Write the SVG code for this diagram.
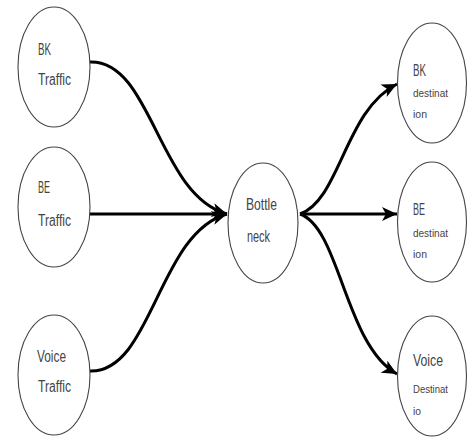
<svg xmlns="http://www.w3.org/2000/svg" width="468" height="441" viewBox="0 0 468 441">
<style>
.node ellipse{fill:#fff;stroke:#444;stroke-width:1.1}
.node text{font-family:"Liberation Sans",Arial,sans-serif;fill:#444}
.big{font-size:16px}
.small{font-size:11px}
.conn path{fill:none;stroke:#000;stroke-width:3}
</style>
<defs>
<marker id="ah" markerUnits="userSpaceOnUse" markerWidth="16" markerHeight="14" refX="15" refY="7" orient="auto">
<path d="M0,0 L15,7 L0,14 L4,7 z" fill="#000"/>
</marker>
</defs>
<rect width="468" height="441" fill="#fff"/>
<g class="conn">
<path d="M90,62 C152,60 158,195 227,214" marker-end="url(#ah)"/>
<path d="M90,214 L227,214" marker-end="url(#ah)"/>
<path d="M90,371 C152,373 158,233 227,214" marker-end="url(#ah)"/>
<path d="M300,214 C340,200 345,110 397,84" marker-end="url(#ah)"/>
<path d="M300,214 L397,214" marker-end="url(#ah)"/>
<path d="M300,214 C340,228 345,345 397,374" marker-end="url(#ah)"/>
</g>
<g id="bk-traffic" class="node">
<ellipse cx="54" cy="67" rx="36" ry="60"/>
<text class="big" x="38" y="55" textLength="13" lengthAdjust="spacingAndGlyphs">BK</text>
<text class="big" x="38" y="85" textLength="33" lengthAdjust="spacingAndGlyphs">Traffic</text>
</g>
<g id="be-traffic" class="node">
<ellipse cx="54" cy="207" rx="36" ry="60"/>
<text class="big" x="38" y="193" textLength="12" lengthAdjust="spacingAndGlyphs">BE</text>
<text class="big" x="38" y="226" textLength="33" lengthAdjust="spacingAndGlyphs">Traffic</text>
</g>
<g id="voice-traffic" class="node">
<ellipse cx="54" cy="375" rx="36" ry="60"/>
<text class="big" x="37" y="362" textLength="29" lengthAdjust="spacingAndGlyphs">Voice</text>
<text class="big" x="38" y="392" textLength="33" lengthAdjust="spacingAndGlyphs">Traffic</text>
</g>
<g id="bottleneck" class="node">
<ellipse cx="263" cy="223" rx="35" ry="60"/>
<text class="big" x="246" y="210" textLength="31" lengthAdjust="spacingAndGlyphs">Bottle</text>
<text class="big" x="247" y="242" textLength="23" lengthAdjust="spacingAndGlyphs">neck</text>
</g>
<g id="bk-destination" class="node">
<ellipse cx="432" cy="83" rx="34.5" ry="60"/>
<text class="big" x="413" y="76" textLength="13" lengthAdjust="spacingAndGlyphs">BK</text>
<text class="small" x="413" y="97" textLength="35" lengthAdjust="spacingAndGlyphs">destinat</text>
<text class="small" x="413" y="118" textLength="14" lengthAdjust="spacingAndGlyphs">ion</text>
</g>
<g id="be-destination" class="node">
<ellipse cx="432" cy="222" rx="34.5" ry="60"/>
<text class="big" x="413" y="215" textLength="12" lengthAdjust="spacingAndGlyphs">BE</text>
<text class="small" x="413" y="237" textLength="35" lengthAdjust="spacingAndGlyphs">destinat</text>
<text class="small" x="413" y="258" textLength="14" lengthAdjust="spacingAndGlyphs">ion</text>
</g>
<g id="voice-destination" class="node">
<ellipse cx="432" cy="376" rx="34.5" ry="60"/>
<text class="big" x="413" y="366" textLength="30" lengthAdjust="spacingAndGlyphs">Voice</text>
<text class="small" x="413" y="393" textLength="35" lengthAdjust="spacingAndGlyphs">Destinat</text>
<text class="small" x="413" y="415" textLength="8" lengthAdjust="spacingAndGlyphs">io</text>
</g>
</svg>
